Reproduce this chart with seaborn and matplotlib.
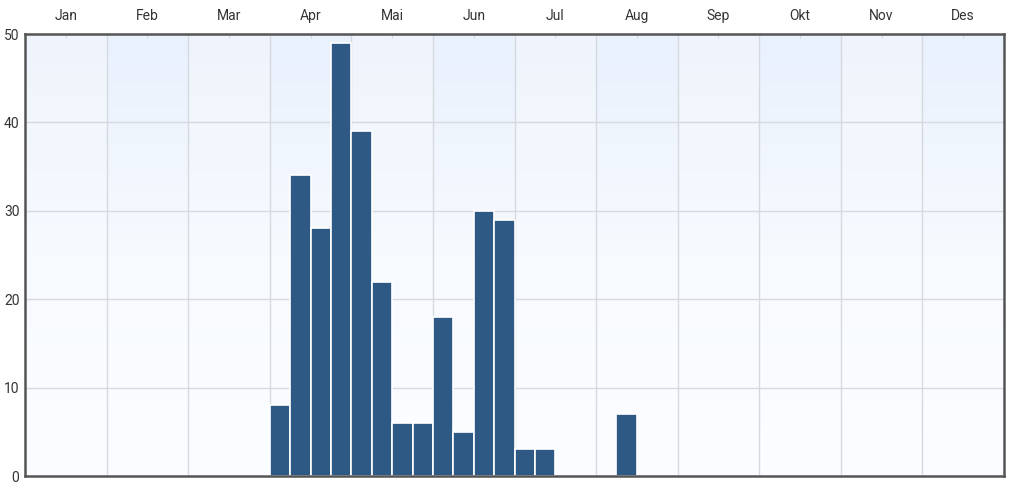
import numpy as np
import pandas as pd
import matplotlib
matplotlib.use("Agg")
import matplotlib.pyplot as plt
import seaborn as sns
from matplotlib.colors import LinearSegmentedColormap

months = ["Jan", "Feb", "Mar", "Apr", "Mai", "Jun", "Jul", "Aug", "Sep", "Okt", "Nov", "Des"]
# 4 bins per month (48 bins)
values = [0, 0, 0, 0,
          0, 0, 0, 0,
          0, 0, 0, 0,
          8, 34, 28, 49,
          39, 22, 6, 6,
          18, 5, 30, 29,
          3, 3, 0, 0,
          0, 7, 0, 0,
          0, 0, 0, 0,
          0, 0, 0, 0,
          0, 0, 0, 0,
          0, 0, 0, 0]
yticks = [0, 10, 20, 30, 40, 50]

sns.set_theme(style="white")
plt.rcParams['font.family'] = ['Roboto', 'DejaVu Sans']

fig = plt.figure(figsize=(10.24, 4.88), dpi=100)
ax = fig.add_axes([25/1024, 1-476/488, (1004-25)/1024, (476-34)/488])

# background gradients per month
for i in range(12):
    top = "#e9f1fd" if i % 2 == 1 else "#eff4fc"
    cmap = LinearSegmentedColormap.from_list("g", ["#fcfdff", "#f7faff", top])
    grad = np.linspace(0, 1, 256).reshape(-1, 1)
    ax.imshow(grad, cmap=cmap, aspect="auto", origin="lower",
              extent=[i*4, i*4+4, 0, 50], zorder=0, interpolation="bicubic")

df = pd.DataFrame({"x": np.arange(len(values)) + 0.5, "v": values})
sns.barplot(data=df, x="x", y="v", native_scale=True, width=1.0,
            color="#2e5985", saturation=1, edgecolor="white", linewidth=1.2,
            ax=ax, zorder=3)

ax.set_xlim(0, 48)
ax.set_ylim(0, 50)
ax.set_xlabel("")
ax.set_ylabel("")

# gridlines
for b in range(4, 48, 4):
    ax.axvline(b, color="#d6d9de", lw=1, zorder=1)
for y in yticks[1:-1]:
    ax.axhline(y, color="#d6d9de", lw=1, zorder=1)

ax.set_yticks(yticks)
ax.set_yticklabels([str(t) for t in yticks], fontsize=10, color="#333333")
ax.tick_params(axis="y", length=0, pad=4)

ax.xaxis.tick_top()
ax.set_xticks([i*4 + 2 for i in range(12)])
ax.set_xticklabels(months, fontsize=10, color="#333333")
ax.tick_params(axis="x", length=3, width=0.8, color="#d8d8d8", direction="in", pad=8)

for s in ax.spines.values():
    s.set_visible(True)
    s.set_color("#555555")
    s.set_linewidth(1.8)
    s.set_zorder(5)

fig.savefig("out.png", dpi=100, facecolor="white")
